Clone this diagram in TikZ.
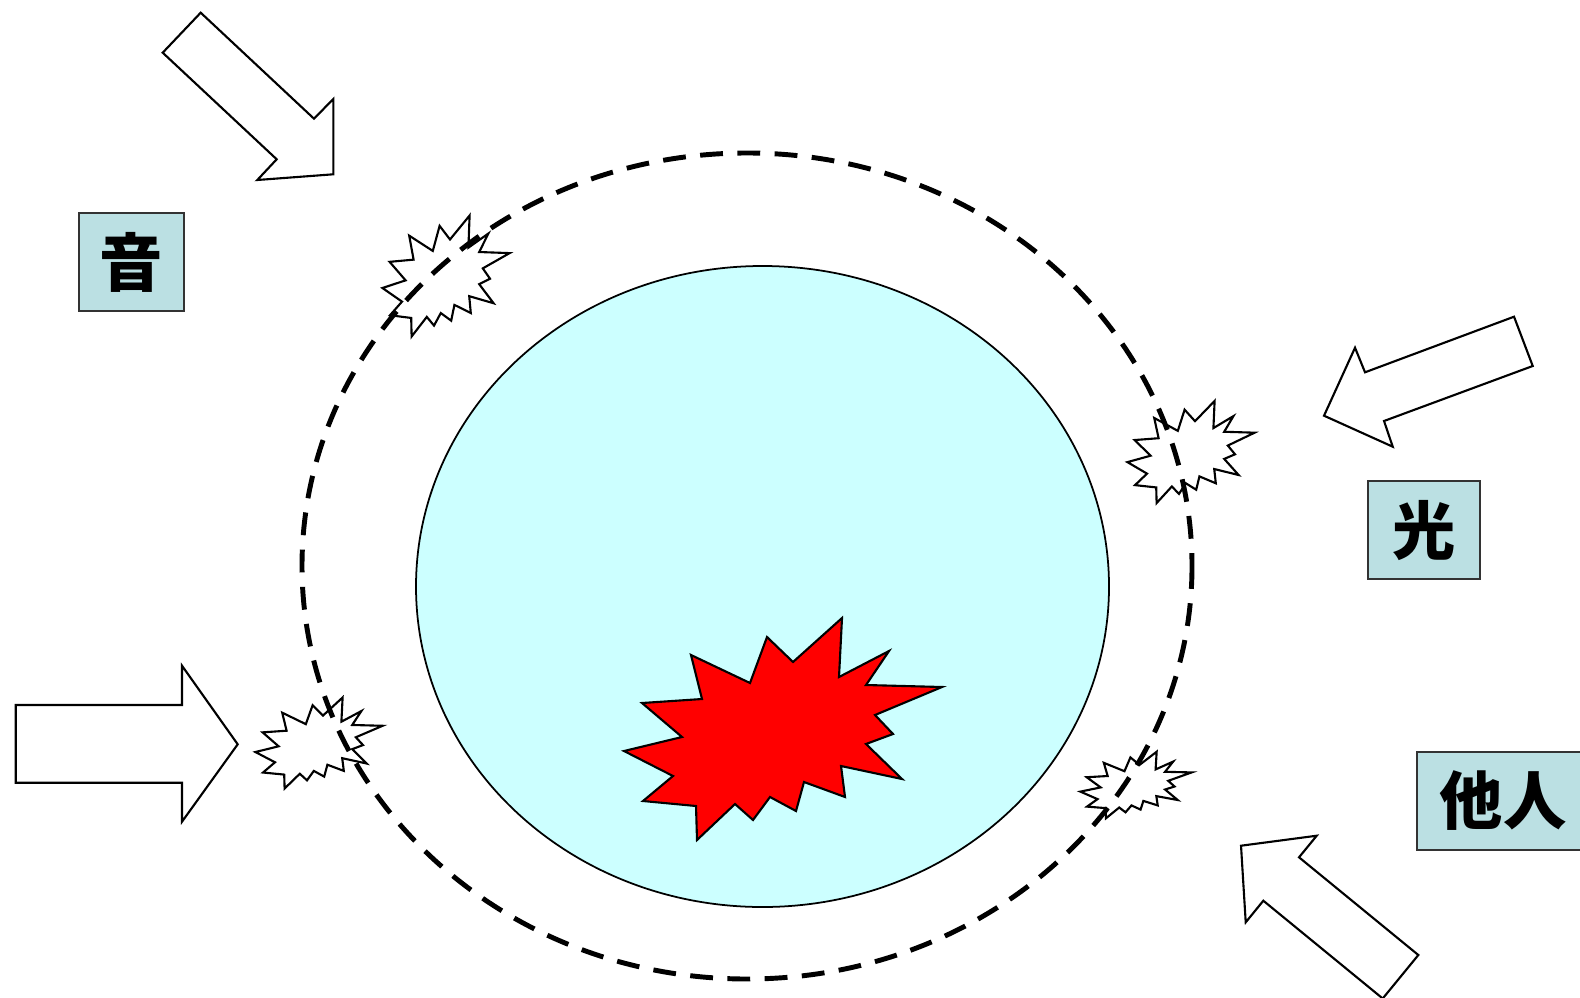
\documentclass[tikz,border=0pt]{standalone}
\usepackage{fontspec}
\newfontfamily\cjk{Noto Sans CJK JP}
\usepackage{xcolor}
\usepackage{tikz}
\definecolor{boxblue}{HTML}{BBE0E3}
\definecolor{cellblue}{HTML}{CCFFFF}
\tikzset{
  lblbox/.style={draw=black!80, line width=0.5pt, fill=boxblue, inner sep=0pt,
                 font=\cjk\bfseries\fontsize{18}{20}\selectfont,
                 minimum width=1.05cm, minimum height=0.98cm},
  blockarrow/.style={draw, fill=white, line width=0.6pt, line join=miter},
  ringline/.style={line width=1.4pt, dash pattern=on 6.5pt off 4.1pt},
  burst/.pic={
    \draw[pic actions] (59,-111) -- (56,-52) -- (106,-78) -- (83,-44) -- (159,-42)
      -- (92,-14) -- (110,5) -- (83,15) -- (119,50) -- (58,37) -- (62,68)
      -- (21,53) -- (13,82) -- (-13,68) -- (-30,91) -- (-48,75) -- (-86,111)
      -- (-87,77) -- (-140,72) -- (-110,47) -- (-159,22) -- (-101,8)
      -- (-141,-26) -- (-81,-30) -- (-92,-74) -- (-33,-46) -- (-16,-92)
      -- (10,-67) -- cycle;
  },
}

\begin{document}
\begin{tikzpicture}[x=0.01cm, y=-0.01cm]
  \useasboundingbox (0,0) rectangle (1580,997);
  \clip (0,0) rectangle (1580,997);

  % cell
  \draw[fill=cellblue, line width=0.5pt] (762.5,586.5) ellipse [x radius=346.5, y radius=320.5];
  \pic[fill=red, line width=0.6pt, line join=miter] (core) at (783,729) {burst};

  % small bursts on the boundary
  \pic[fill=white, line width=0.6pt, xscale=0.40, yscale=0.545] (b1) at (446,276) {burst};
  \pic[fill=white, line width=0.6pt, xscale=0.40, yscale=0.46] (b2) at (1191,452) {burst};
  \pic[fill=white, line width=0.6pt, xscale=0.40, yscale=0.41] (b3) at (319,743) {burst};
  \pic[fill=white, line width=0.6pt, xscale=0.35, yscale=0.30] (b4) at (1136,785) {burst};

  % boundary
  \draw[ringline] (747,566) ellipse [x radius=445, y radius=413];

  % stimuli
  \draw[blockarrow] (200.7,12.7) -- (314,118.7) -- (333.3,99) -- (333.3,174.3)
    -- (257.3,180) -- (276.7,159.3) -- (162.7,52.7) -- cycle;
  \draw[blockarrow] (1514,316.7) -- (1532.7,366) -- (1384,421) -- (1392.7,446.7)
    -- (1324,415.7) -- (1355,347.7) -- (1365,372.3) -- cycle;
  \draw[blockarrow] (15.7,705) -- (182,705) -- (182,665.7) -- (237.7,744.3)
    -- (182,821.7) -- (182,782.7) -- (15.7,782.7) -- cycle;
  \draw[blockarrow] (1241,845.7) -- (1316.7,835.7) -- (1299,857.3) -- (1418.3,955)
    -- (1382.7,998.5) -- (1263.3,900.7) -- (1245.7,922.3) -- cycle;

  \node[lblbox] (sound) at (131.5,262) {音};
  \node[lblbox, minimum width=1.12cm] (light) at (1424,530) {光};
  \node[lblbox, minimum width=1.72cm] (others) at (1503,801) {他人};
\end{tikzpicture}
\end{document}
